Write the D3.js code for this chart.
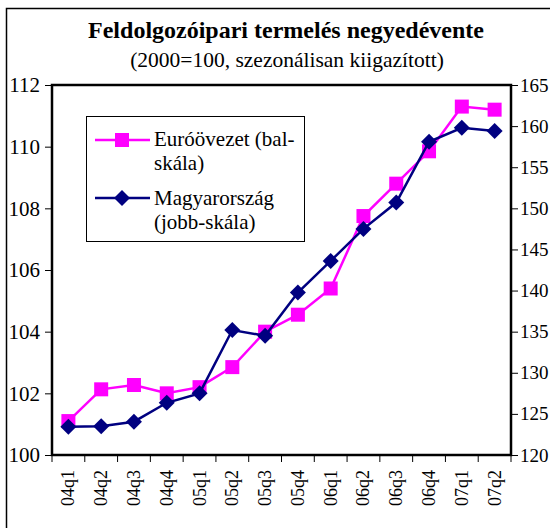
<!DOCTYPE html>
<html>
<head>
<meta charset="utf-8">
<script src="https://cdn.jsdelivr.net/npm/d3@7"></script>
<style>
  body { margin: 0; background: #fff; }
  svg text { font-family: "Liberation Serif", "Times New Roman", serif; }
</style>
</head>
<body>
<div id="chart"></div>
<script>
// quarters on the x axis
const quarters = ["04q1", "04q2", "04q3", "04q4", "05q1", "05q2", "05q3",
                  "05q4", "06q1", "06q2", "06q3", "06q4", "07q1", "07q2"];
// Euro area, left scale
const euroArea = [101.1, 102.13, 102.27, 102.0, 102.2, 102.85, 104.0,
                  104.55, 105.4, 107.75, 108.8, 109.85, 111.3, 111.2];
// Hungary, right scale
const hungary = [123.45, 123.5, 124.05, 126.35, 127.5, 135.2, 134.5,
                 139.75, 143.6, 147.5, 150.7, 158.1, 159.8, 159.4];
const leftTicks = [100, 102, 104, 106, 108, 110, 112];
const rightTicks = [120, 125, 130, 135, 140, 145, 150, 155, 160, 165];

const width = 550, height = 528;
const plot = { left: 52, right: 511, top: 85, bottom: 455 };
const serif = "Liberation Serif";

const svg = d3.select("#chart").append("svg")
  .attr("width", width)
  .attr("height", height)
  .attr("font-family", serif);

// outer frame
svg.append("rect")
  .attr("x", 6.5).attr("y", 8.5)
  .attr("width", 560).attr("height", 540)
  .attr("fill", "none").attr("stroke", "#000").attr("stroke-width", 1.5);

svg.append("text")
  .attr("x", 286).attr("y", 38)
  .attr("text-anchor", "middle")
  .attr("font-family", serif)
  .attr("font-size", 24).attr("font-weight", "bold")
  .text("Feldolgozóipari termelés negyedévente");

svg.append("text")
  .attr("x", 287).attr("y", 67)
  .attr("text-anchor", "middle")
  .attr("font-family", serif)
  .attr("font-size", 21.5)
  .text("(2000=100, szezonálisan kiigazított)");

const x = d3.scaleBand().domain(quarters).range([plot.left, plot.right]).padding(0);
const yLeft = d3.scaleLinear().domain([100, 112]).range([plot.bottom, plot.top]);
const yRight = d3.scaleLinear().domain([120, 165]).range([plot.bottom, plot.top]);

// x axis: ticks at category boundaries
const xAxis = svg.append("g").attr("transform", `translate(0,${plot.bottom})`);
xAxis.selectAll("line.tick")
  .data(quarters.concat(["end"]))
  .join("line")
  .attr("x1", (d, i) => plot.left + i * x.bandwidth())
  .attr("x2", (d, i) => plot.left + i * x.bandwidth())
  .attr("y1", 0).attr("y2", 7)
  .attr("stroke", "#000");
xAxis.selectAll("text")
  .data(quarters)
  .join("text")
  .attr("transform", d => `translate(${x(d) + x.bandwidth() / 2 + 6},15) rotate(-90)`)
  .attr("text-anchor", "end")
  .attr("font-family", serif)
  .attr("font-size", 18)
  .text(d => d);

const leftAxis = svg.append("g")
  .attr("transform", `translate(${plot.left},0)`)
  .call(d3.axisLeft(yLeft).tickValues(leftTicks).tickSize(7).tickPadding(5));
const rightAxis = svg.append("g")
  .attr("transform", `translate(${plot.right},0)`)
  .call(d3.axisRight(yRight).tickValues(rightTicks).tickSize(7).tickPadding(2));
[leftAxis, rightAxis].forEach(g => {
  g.attr("font-family", serif);
  g.select(".domain").remove();
  g.selectAll("text").attr("font-family", serif).attr("fill", "#000");
});
leftAxis.selectAll("text").attr("font-size", 21);
rightAxis.selectAll("text").attr("font-size", 19);

// plot frame
svg.append("rect")
  .attr("x", plot.left).attr("y", plot.top)
  .attr("width", plot.right - plot.left).attr("height", plot.bottom - plot.top)
  .attr("fill", "none").attr("stroke", "#000").attr("stroke-width", 2.5);

const cx = d => x(d) + x.bandwidth() / 2;
const pink = "#ff00ff", navy = "#000080";

const euroLine = d3.line().x((d, i) => cx(quarters[i])).y(d => yLeft(d));
const huLine = d3.line().x((d, i) => cx(quarters[i])).y(d => yRight(d));

svg.append("path").attr("d", euroLine(euroArea))
  .attr("fill", "none").attr("stroke", pink).attr("stroke-width", 2.5);
svg.selectAll("rect.euro").data(euroArea).join("rect")
  .attr("class", "euro")
  .attr("x", (d, i) => cx(quarters[i]) - 7)
  .attr("y", d => yLeft(d) - 7)
  .attr("width", 14).attr("height", 14)
  .attr("fill", pink);

svg.append("path").attr("d", huLine(hungary))
  .attr("fill", "none").attr("stroke", navy).attr("stroke-width", 2.5);
const diamond = "M0,-8L8,0L0,8L-8,0Z";
svg.selectAll("path.hu").data(hungary).join("path")
  .attr("class", "hu")
  .attr("d", diamond)
  .attr("transform", (d, i) => `translate(${cx(quarters[i])},${yRight(d)})`)
  .attr("fill", navy);

// legend
const legend = svg.append("g");
legend.append("rect")
  .attr("x", 86.5).attr("y", 116.5).attr("width", 218).attr("height", 125)
  .attr("fill", "#fff").attr("stroke", "#000").attr("stroke-width", 1);
legend.append("line").attr("x1", 95).attr("x2", 150).attr("y1", 140).attr("y2", 140)
  .attr("stroke", pink).attr("stroke-width", 2.5);
legend.append("rect").attr("x", 115).attr("y", 133).attr("width", 14).attr("height", 14)
  .attr("fill", pink);
legend.append("line").attr("x1", 95).attr("x2", 150).attr("y1", 198).attr("y2", 198)
  .attr("stroke", navy).attr("stroke-width", 2.5);
legend.append("path").attr("d", diamond).attr("transform", "translate(122,198)")
  .attr("fill", navy);

const legendLines = [
  ["Euróövezet (bal-", 146], ["skála)", 170],
  ["Magyarország", 205], ["(jobb-skála)", 229]
];
legend.selectAll("text").data(legendLines).join("text")
  .attr("x", 154).attr("y", d => d[1])
  .attr("font-family", serif)
  .attr("font-size", 21)
  .text(d => d[0]);
</script>
</body>
</html>
